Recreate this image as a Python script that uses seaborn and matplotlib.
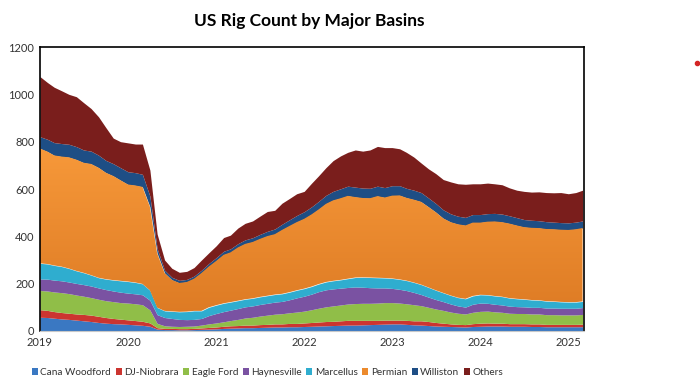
import pandas as pd
import numpy as np
import matplotlib
matplotlib.use('Agg')
import matplotlib.pyplot as plt
import matplotlib.dates as mdates
from matplotlib.lines import Line2D
from matplotlib.patches import Patch
from matplotlib.colors import LinearSegmentedColormap
import seaborn as sns

# monthly rig counts, Jan 2019 - Mar 2025
months = pd.date_range('2019-01-01', periods=75, freq='MS')

cana_woodford = [58, 57, 54, 51, 49, 46, 43, 40, 36, 33, 31, 30,
                 28, 26, 24, 20, 8, 6, 6, 5, 5, 6, 7, 8,
                 9, 11, 12, 13, 14, 14, 15, 16, 17, 17, 18, 18,
                 19, 20, 21, 22, 23, 24, 25, 25, 26, 27, 28, 29,
                 30, 30, 28, 26, 25, 23, 21, 20, 19, 18, 17, 19,
                 20, 21, 21, 21, 20, 20, 20, 19, 19, 18, 18, 18,
                 18, 18, 18]
dj_niobrara = [32, 30, 28, 27, 26, 26, 27, 27, 26, 24, 22, 20,
               19, 18, 17, 14, 6, 5, 5, 5, 5, 5, 6, 7,
               8, 9, 10, 10, 11, 11, 12, 12, 13, 13, 14, 14,
               15, 16, 17, 18, 18, 19, 20, 20, 19, 18, 17, 17,
               16, 16, 17, 17, 18, 17, 15, 13, 11, 10, 10, 12,
               13, 13, 12, 12, 11, 11, 11, 11, 11, 10, 10, 10,
               10, 10, 11]
eagle_ford = [81, 82, 83, 84, 83, 80, 77, 74, 72, 71, 71, 70,
              71, 71, 70, 55, 18, 11, 9, 9, 10, 10, 12, 15,
              17, 19, 22, 26, 30, 33, 36, 39, 41, 43, 45, 48,
              50, 54, 58, 62, 65, 67, 69, 71, 72, 72, 73, 74,
              74, 72, 70, 68, 64, 60, 57, 54, 50, 47, 45, 48,
              50, 50, 48, 46, 44, 43, 43, 42, 42, 41, 41, 40,
              40, 40, 41]
haynesville = [49, 50, 50, 50, 49, 49, 49, 49, 48, 47, 45, 44,
               42, 42, 42, 41, 37, 35, 33, 30, 28, 28, 28, 35,
               40, 43, 44, 46, 47, 48, 49, 50, 51, 52, 55, 60,
               63, 66, 70, 72, 72, 71, 70, 70, 68, 66, 64, 62,
               60, 58, 56, 52, 47, 43, 40, 37, 34, 31, 29, 34,
               35, 33, 32, 31, 30, 29, 28, 28, 28, 28, 28, 28,
               28, 28, 29]
marcellus = [66, 64, 62, 60, 57, 53, 50, 46, 43, 44, 46, 48,
             49, 48, 46, 42, 30, 28, 30, 32, 34, 36, 32, 35,
             35, 35, 34, 33, 32, 32, 32, 32, 32, 32, 32, 32,
             32, 32, 32, 33, 34, 35, 37, 40, 42, 43, 43, 42,
             42, 42, 42, 42, 42, 41, 39, 37, 36, 35, 35, 35,
             35, 35, 35, 35, 34, 33, 32, 31, 30, 29, 28, 27,
             26, 26, 26]
permian = [485, 475, 465, 465, 470, 470, 465, 470, 465, 450, 440, 425,
           410, 410, 410, 353, 230, 160, 133, 122, 125, 136, 160, 172,
           187, 205, 210, 225, 234, 238, 245, 252, 255, 270, 280, 288,
           295, 305, 315, 330, 340, 345, 350, 340, 335, 335, 345, 340,
           350, 355, 350, 350, 350, 340, 330, 315, 310, 310, 310, 310,
           305, 310, 315, 315, 315, 310, 305, 305, 305, 305, 305, 305,
           305, 308, 310]
williston = [50, 52, 54, 55, 55, 55, 54, 54, 53, 52, 52, 53,
             54, 54, 53, 45, 20, 12, 11, 11, 11, 11, 12, 13,
             14, 15, 15, 16, 17, 18, 19, 20, 22, 24, 26, 28,
             30, 32, 34, 36, 38, 40, 41, 42, 42, 42, 42, 42,
             42, 41, 40, 40, 39, 38, 37, 36, 35, 34, 34, 34,
             34, 34, 34, 34, 33, 33, 32, 32, 31, 31, 30, 30,
             30, 30, 30]
others = [254, 240, 234, 223, 211, 211, 200, 180, 162, 139, 108, 110,
          122, 121, 128, 110, 61, 43, 38, 34, 34, 36, 43, 45,
          50, 58, 58, 66, 70, 71, 77, 84, 79, 89, 90, 92,
          86, 100, 108, 117, 130, 139, 143, 157, 156, 162, 168, 169,
          161, 156, 152, 140, 125, 123, 126, 128, 135, 137, 140, 130,
          130, 129, 125, 124, 118, 116, 119, 119, 122, 123, 124, 127,
          123, 125, 130]

basins = ['Cana Woodford', 'DJ-Niobrara', 'Eagle Ford', 'Haynesville',
          'Marcellus', 'Permian', 'Williston', 'Others']
colors = ['#3A78C2', '#CC3530', '#90BE48', '#7A52A2',
          '#2FADCF', '#EC8A2D', '#1E4E85', '#7A1E1C']

sns.set_theme(style='white')
plt.rcParams['font.family'] = ['Lato', 'DejaVu Sans']

fig = plt.figure(figsize=(7, 3.86), dpi=100)
ax = fig.add_axes([0.0571, 0.1425, 0.7772, 0.7357])

polys = ax.stackplot(months, cana_woodford, dj_niobrara, eagle_ford, haynesville,
                     marcellus, permian, williston, others,
                     colors=colors, linewidth=0)

ax.set_ylim(0, 1200)
ax.set_yticks(range(0, 1201, 200))
ax.set_xlim(months[0], months[-1] + pd.Timedelta(days=6))

# Permian fill has a light-to-dark vertical gradient in the original
perm = polys[5]
perm.set_facecolor('none')
grad = LinearSegmentedColormap.from_list('perm', ['#DB7822', '#F7993A'])
x0, x1 = ax.get_xlim()
img = ax.imshow(np.linspace(0, 1, 256).reshape(-1, 1), cmap=grad, aspect='auto',
                origin='lower', extent=[x0, x1, 0, 780], zorder=perm.get_zorder())
img.set_clip_path(perm.get_paths()[0], transform=ax.transData)
ax.set_xlim(x0, x1)
ax.set_ylim(0, 1200)

ax.xaxis.set_major_locator(mdates.YearLocator())
ax.xaxis.set_major_formatter(mdates.DateFormatter('%Y'))
ax.tick_params(axis='both', length=0, labelsize=8, colors='#333333', pad=4)

for side in ['top', 'left', 'right']:
    ax.spines[side].set_color('black')
    ax.spines[side].set_linewidth(1.2)
ax.spines['bottom'].set_color('#c8c8c8')
ax.spines['bottom'].set_linewidth(0.8)

fig.text(0.442, 0.945, 'US Rig Count by Major Basins', ha='center', va='center',
         fontsize=12.5, fontweight='bold', color='black')

handles = [Patch(facecolor=c, edgecolor='none') for c in colors]
fig.legend(handles, basins, loc='center', bbox_to_anchor=(0.382, 0.035), ncol=8,
           frameon=False, fontsize=7.2, handlelength=0.6, handleheight=0.6,
           handletextpad=0.25, columnspacing=0.45, labelcolor='#333333')

# small red mark at the right edge of the source image
fig.add_artist(Line2D([0.996], [1 - 63 / 386], marker='o', markersize=3,
                      color='#D42525', transform=fig.transFigure))

fig.savefig('out.png', dpi=100, facecolor='white')
